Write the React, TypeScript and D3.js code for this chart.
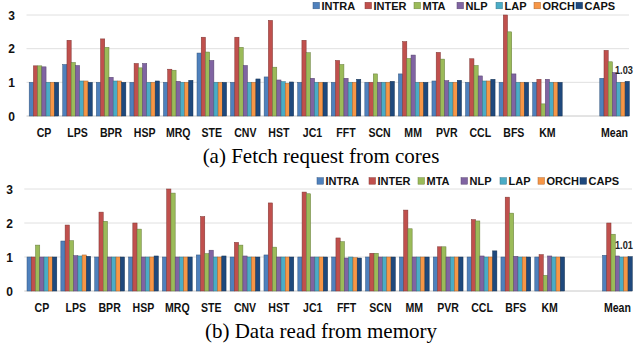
import React, { useEffect } from "react";
import * as d3 from "d3";

const benchmarks = ["CP", "LPS", "BPR", "HSP", "MRQ", "STE", "CNV", "HST", "JC1", "FFT", "SCN", "MM", "PVR", "CCL", "BFS", "KM", "Mean"];
const seriesNames = ["INTRA", "INTER", "MTA", "NLP", "LAP", "ORCH", "CAPS"];
const seriesColors = ["#4F81BD", "#C0504D", "#9BBB59", "#8064A2", "#4BACC6", "#F79646", "#1F497D"];
const yTicks = [0, 1, 2, 3];

// (a) fetch request from cores
const fetchIntra = [1.0, 1.53, 1.0, 1.0, 1.0, 1.87, 1.0, 1.16, 1.0, 1.0, 1.0, 1.25, 1.04, 1.0, 1.0, 1.0, 1.12];
const fetchInter = [1.49, 2.25, 2.29, 1.56, 1.39, 2.34, 2.34, 2.84, 2.25, 1.65, 1.0, 2.21, 1.89, 1.7, 3.0, 1.09, 1.95];
const fetchMta = [1.49, 1.59, 2.04, 1.43, 1.36, 1.9, 2.04, 1.45, 1.88, 1.53, 1.25, 1.71, 1.69, 1.5, 2.5, 0.36, 1.61];
const fetchNlp = [1.46, 1.5, 1.15, 1.56, 1.03, 1.65, 1.5, 1.07, 1.12, 1.12, 1.0, 1.81, 1.05, 1.19, 1.25, 1.09, 1.29];
const fetchLap = [1.0, 1.04, 1.04, 1.0, 1.0, 1.0, 1.0, 1.02, 1.0, 1.0, 1.0, 1.0, 1.0, 1.04, 1.0, 1.0, 1.0];
const fetchOrch = [1.0, 1.04, 1.04, 1.0, 1.0, 1.0, 1.0, 0.97, 1.0, 1.0, 1.0, 1.0, 1.0, 1.04, 1.0, 1.0, 1.0];
const fetchCaps = [1.0, 1.0, 1.0, 1.04, 1.06, 1.0, 1.1, 1.01, 1.0, 1.09, 1.03, 1.0, 1.06, 1.09, 1.0, 1.0, 1.03];

// (b) data read from memory
const memIntra = [1.0, 1.47, 1.0, 1.0, 1.0, 1.06, 1.0, 1.06, 1.0, 1.0, 1.0, 1.0, 1.0, 1.0, 1.0, 1.0, 1.05];
const memInter = [1.0, 1.94, 2.32, 2.0, 3.0, 2.19, 1.43, 2.59, 2.91, 1.56, 1.11, 2.38, 1.3, 2.1, 2.76, 1.07, 2.0];
const memMta = [1.35, 1.48, 2.05, 1.82, 2.88, 1.1, 1.35, 1.29, 2.86, 1.45, 1.11, 1.83, 1.3, 2.06, 2.29, 0.46, 1.67];
const memNlp = [1.0, 1.04, 1.0, 1.0, 1.0, 1.2, 1.03, 1.0, 1.0, 0.97, 1.0, 1.0, 1.0, 1.03, 1.02, 1.03, 1.03];
const memLap = [1.0, 1.03, 1.0, 1.0, 1.0, 1.0, 1.0, 1.0, 1.0, 1.0, 1.0, 1.0, 1.0, 1.0, 1.0, 1.0, 1.0];
const memOrch = [1.0, 1.06, 1.0, 1.0, 1.0, 1.0, 1.0, 1.0, 1.0, 0.98, 1.0, 1.0, 1.0, 1.0, 1.0, 1.0, 1.0];
const memCaps = [1.0, 1.02, 1.0, 1.03, 1.0, 1.03, 1.0, 1.0, 1.0, 0.97, 1.0, 1.0, 1.0, 1.18, 1.0, 1.0, 1.01];

const fetchSeries = [fetchIntra, fetchInter, fetchMta, fetchNlp, fetchLap, fetchOrch, fetchCaps];
const memSeries = [memIntra, memInter, memMta, memNlp, memLap, memOrch, memCaps];

const W = 637;
const H = 351;
const SANS = "Arial, 'Liberation Sans', Helvetica, sans-serif";
const SERIF = "'Times New Roman', 'Liberation Serif', Times, serif";

// slot list with an empty gap before Mean
const slots = [...benchmarks.slice(0, -1), "__gap", "Mean"];
const legendOffsets = [0, 52, 101, 144, 183, 221, 263];

type PanelProps = {
  series: number[][];
  zeroY: number;
  topY: number;
  xStart: number;
  xEnd: number;
  tickX: number;
  legendX: number;
  legendY: number;
  caption: string;
  captionY: number;
};

const Panel = ({ series, zeroY, topY, xStart, xEnd, tickX, legendX, legendY, caption, captionY }: PanelProps) => {
  const x = d3.scaleBand<string>().domain(slots).range([xStart, xEnd]).paddingInner(0.12).paddingOuter(0.08);
  const xi = d3.scaleBand<string>().domain(seriesNames).range([0, x.bandwidth()]);
  const y = d3.scaleLinear().domain([0, 3]).range([zeroY, topY]);

  const meanIdx = benchmarks.length - 1;
  const capsMean = series[seriesNames.indexOf("CAPS")][meanIdx];
  // keep the label inside the right edge
  const meanLabelX = Math.min((x("Mean") ?? 0) + (xi("LAP") ?? 0), W - 22);
  const meanLabelY = y(capsMean) - 7.5;

  return (
    <g>
      {yTicks.map((t) => (
        <g key={t}>
          <line x1={xStart} x2={xEnd - 3} y1={y(t)} y2={y(t)} stroke={t === 0 ? "#c8c8c8" : "#e0e0e0"} strokeWidth={1} />
          <text x={tickX} y={y(t) + 4.5} textAnchor="end" fontFamily={SANS} fontWeight="bold" fontSize={12} fill="#111">
            {t}
          </text>
        </g>
      ))}

      {benchmarks.map((b, bi) => (
        <g key={b} transform={`translate(${x(b)},0)`}>
          {seriesNames.map((s, si) => {
            const v = series[si][bi];
            return (
              <rect
                key={s}
                x={xi(s)}
                y={y(v)}
                width={xi.bandwidth()}
                height={zeroY - y(v)}
                fill={seriesColors[si]}
                stroke={d3.color(seriesColors[si])!.darker(1.2).formatHex()}
                strokeWidth={0.5}
              />
            );
          })}
          <text
            transform={`translate(${x.bandwidth() / 2},${zeroY + 21}) scale(0.88,1)`}
            textAnchor="middle"
            fontFamily={SANS}
            fontWeight="bold"
            fontSize={12}
            fill="#111"
          >
            {b}
          </text>
        </g>
      ))}

      <text
        transform={`translate(${meanLabelX},${meanLabelY}) scale(0.8,1)`}
        fontFamily={SANS}
        fontWeight="bold"
        fontSize={11.5}
        fill="#222"
      >
        {d3.format(".2f")(capsMean)}
      </text>

      {seriesNames.map((s, si) => (
        <g key={s} transform={`translate(${legendX + legendOffsets[si]},${legendY})`}>
          <rect x={0} y={-3.3} width={6.5} height={6.5} fill={seriesColors[si]} stroke={d3.color(seriesColors[si])!.darker(1).formatHex()} strokeWidth={0.5} />
          <text x={8.5} y={4} fontFamily={SANS} fontWeight="bold" fontSize={11} fill="#111">
            {s}
          </text>
        </g>
      ))}

      <text x={321} y={captionY} textAnchor="middle" fontFamily={SERIF} fontSize={21} fill="#000">
        {caption}
      </text>
    </g>
  );
};

export default function App() {
  useEffect(() => {
    document.body.style.margin = "0";
  }, []);

  return (
    <svg width={W} height={H} style={{ display: "block", background: "#fff" }}>
      <Panel
        series={fetchSeries}
        zeroY={116}
        topY={15}
        xStart={26.5}
        xEnd={632}
        tickX={15}
        legendX={313}
        legendY={5.6}
        caption="(a) Fetch request from cores"
        captionY={163}
      />
      <Panel
        series={memSeries}
        zeroY={291}
        topY={189}
        xStart={24.3}
        xEnd={635}
        tickX={13}
        legendX={317}
        legendY={181}
        caption="(b) Data read from memory"
        captionY={338}
      />
    </svg>
  );
}
